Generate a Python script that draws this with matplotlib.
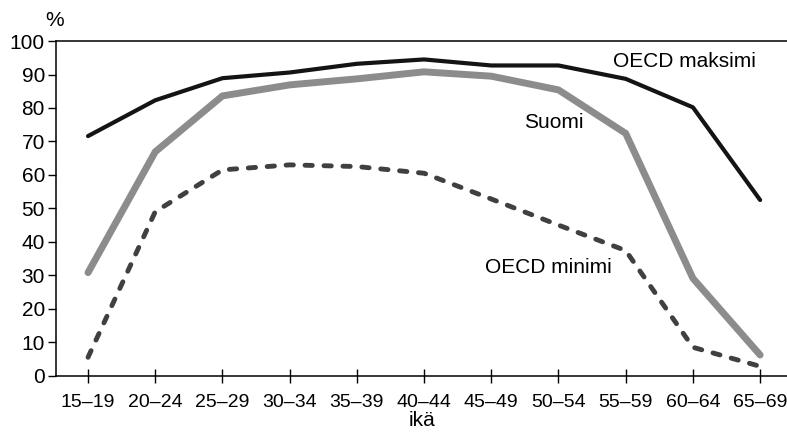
import matplotlib
matplotlib.use("Agg")
from matplotlib import pyplot as plt
import numpy as np

ages = ["15–19", "20–24", "25–29", "30–34", "35–39", "40–44",
        "45–49", "50–54", "55–59", "60–64", "65–69"]
oecd_max = [71.6, 82.3, 88.9, 90.6, 93.2, 94.5, 92.7, 92.7, 88.7, 80.2, 52.5]
suomi = [30.8, 66.9, 83.6, 86.9, 88.7, 90.8, 89.5, 85.4, 72.4, 29.1, 6.2]
oecd_min = [5.5, 49.0, 61.5, 63.0, 62.5, 60.5, 52.8, 45.0, 37.4, 8.5, 2.8]

plt.rcParams['font.family'] = ['Liberation Sans', 'DejaVu Sans']

fig = plt.figure(figsize=(7.87, 4.32), dpi=100)
ax = fig.add_axes([0.0712, 0.1303, 0.9288, 0.7747])

x = np.arange(len(ages))
ax.plot(x, oecd_max, color="#141414", lw=3.0, solid_capstyle="round",
        solid_joinstyle="round")
ax.plot(x, suomi, color="#8c8c8c", lw=5.0, solid_capstyle="round",
        solid_joinstyle="round")
ax.plot(x, oecd_min, color="#404040", lw=3.5, linestyle=(0, (1.5, 2.4)),
        dash_capstyle="round", dash_joinstyle="round")

ax.set_xlim(-0.476, 10.4)
ax.set_ylim(0, 100)
ax.set_xticks(x)
ax.set_xticklabels(ages, fontsize=14)
ax.set_yticks(range(0, 101, 10))
ax.tick_params(axis="y", labelsize=15, length=6, width=1.0, direction="out", pad=2)
ax.tick_params(axis="x", length=10, width=1.0, direction="inout", pad=8)

ax.spines["right"].set_visible(False)
for s in ["left", "bottom", "top"]:
    ax.spines[s].set_linewidth(1.1)

fig.text(0.0712 - 0.002, 0.952, "%", fontsize=15, ha="center", va="center")
ax.set_xlabel("ikä", fontsize=15, labelpad=0)

ax.text(7.81, 93.8, "OECD maksimi", fontsize=15, va="center", ha="left")
ax.text(6.49, 75.8, "Suomi", fontsize=15, va="center", ha="left")
ax.text(5.91, 32.2, "OECD minimi", fontsize=15, va="center", ha="left")

fig.savefig("out.png", dpi=100)
